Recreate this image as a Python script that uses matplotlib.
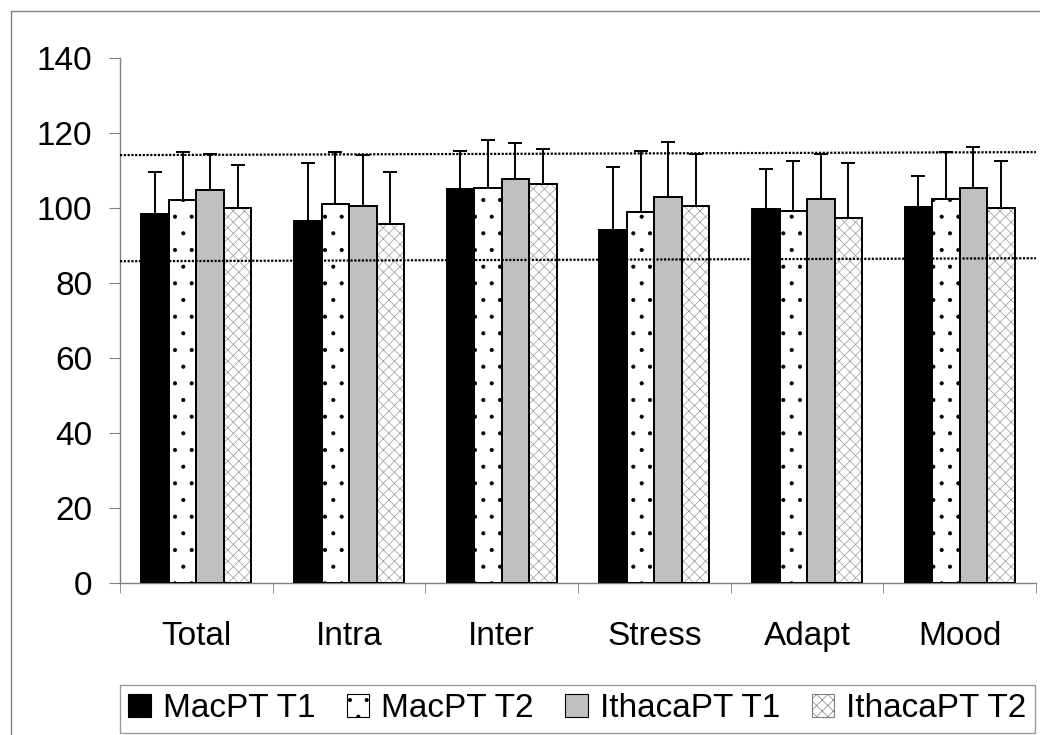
import matplotlib.pyplot as plt
import matplotlib.patches as mpatches
import numpy as np

plt.rcParams['font.family'] = ['Liberation Sans', 'DejaVu Sans']
plt.rcParams['hatch.linewidth'] = 0.5

# scores per scale (bar tops) and upward SD
categories = ['Total', 'Intra', 'Inter', 'Stress', 'Adapt', 'Mood']
series = ['MacPT T1', 'MacPT T2', 'IthacaPT T1', 'IthacaPT T2']
mac_t1 = [98.4, 96.5, 105.0, 94.1, 99.6, 100.2]
mac_t2 = [102.1, 101.1, 105.4, 98.8, 99.3, 102.5]
ith_t1 = [104.8, 100.5, 107.6, 102.9, 102.4, 105.3]
ith_t2 = [100.1, 95.8, 106.4, 100.5, 97.2, 100.1]
sd_mac_t1 = [11.2, 15.4, 10.3, 16.7, 10.9, 8.4]
sd_mac_t2 = [12.8, 13.7, 12.6, 16.5, 13.2, 12.3]
sd_ith_t1 = [9.6, 13.6, 9.6, 14.8, 12.0, 10.9]
sd_ith_t2 = [11.4, 13.8, 9.2, 14.0, 14.7, 12.4]
# dotted reference lines (value at left end, value at right end)
ref_hi = [114.1, 114.9]
ref_lo = [85.8, 86.6]

values = [mac_t1, mac_t2, ith_t1, ith_t2]
sds = [sd_mac_t1, sd_mac_t2, sd_ith_t1, sd_ith_t2]

fig = plt.figure(figsize=(10.4, 7.35), dpi=100)
ax = fig.add_axes([0.1154, 0.2068, 0.8808, 0.7143])

x = np.arange(len(categories))
w = 0.18
styles = [
    dict(face='black', hatch=None, hcol='black'),
    dict(face='white', hatch='.', hcol='black'),
    dict(face='#c0c0c0', hatch=None, hcol='black'),
    dict(face='white', hatch='xxx', hcol='#999999'),
]
handles = []
for i, (v, sd, st) in enumerate(zip(values, sds, styles)):
    pos = x + (i - 1.5) * w
    # fill + hatch layer
    ax.bar(pos, v, w, color=st['face'], edgecolor=st['hcol'], hatch=st['hatch'],
           linewidth=0, zorder=2)
    # outline layer
    ax.bar(pos, v, w, fill=False, edgecolor='black', linewidth=1.4, zorder=3)
    ax.errorbar(pos, v, yerr=[np.zeros(len(v)), sd], fmt='none', ecolor='black',
                elinewidth=1.4, capsize=5, capthick=1.4, zorder=4)
    handles.append(mpatches.Patch(facecolor=st['face'], hatch=st['hatch'],
                                  edgecolor='black' if i < 3 else '#808080',
                                  linewidth=0.8, label=series[i]))

ax.plot([-0.5, 5.5], ref_hi, color='black', linestyle=(0, (1, 0.7)), linewidth=1.6, zorder=5)
ax.plot([-0.5, 5.5], ref_lo, color='black', linestyle=(0, (1, 0.7)), linewidth=1.6, zorder=5)

ax.set_xlim(-0.5, 5.5)
ax.set_ylim(0, 140)
ax.set_yticks(np.arange(0, 141, 20))
ax.set_xticks(x)
ax.set_xticklabels(categories)
ax.set_xticks(np.arange(-0.5, 6, 1), minor=True)
ax.tick_params(axis='x', which='major', length=0, pad=27, labelsize=24)
ax.tick_params(axis='x', which='minor', length=7, color='#808080', direction='out')
ax.tick_params(axis='y', length=8, color='#808080', pad=12, labelsize=24)
for s in ['top', 'right']:
    ax.spines[s].set_visible(False)
for s in ['left', 'bottom']:
    ax.spines[s].set_color('#808080')
    ax.spines[s].set_linewidth(1)

leg = fig.legend(handles=handles, loc='lower left', bbox_to_anchor=(0.1154, 0.003),
                 ncol=4, fontsize=24, frameon=True, fancybox=False,
                 handlelength=0.67, handleheight=0.67, handletextpad=0.36,
                 columnspacing=0.95, borderpad=0.25, borderaxespad=0)
leg.get_frame().set_edgecolor('#808080')
leg.get_frame().set_linewidth(1)

# outer chart frame
fig.patches.append(mpatches.Rectangle((0.0106, -0.1), 1.2, 1.085, transform=fig.transFigure,
                                      fill=False, edgecolor='#808080', linewidth=1))

fig.savefig('out.png', dpi=100)
